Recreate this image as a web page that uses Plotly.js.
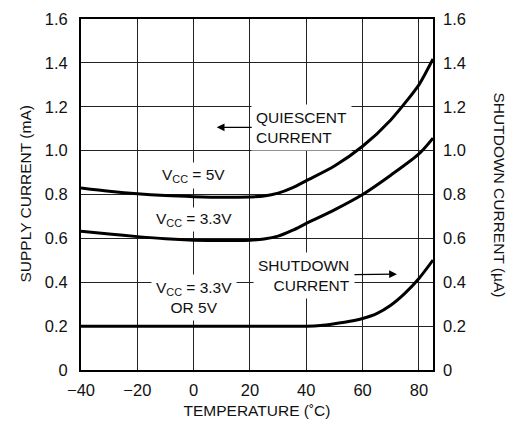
<!DOCTYPE html>
<html>
<head>
<meta charset="utf-8">
<script src="https://cdn.plot.ly/plotly-3.0.1.min.js"></script>
<style>html,body{margin:0;padding:0;background:#fff;}#chart{width:516px;height:425px;}</style>
</head>
<body>
<div id="chart"></div>
<script>
// Temperatures (°C) and currents
const tempQ5 = [-40, -30, -20, -10, 0, 10, 20, 25, 30, 35, 40, 50, 60, 70, 80, 82, 85];
const iq5V   = [0.830, 0.815, 0.803, 0.795, 0.790, 0.787, 0.789, 0.793, 0.806, 0.830, 0.863, 0.930, 1.020, 1.140, 1.300, 1.345, 1.418];

const tempQ33 = [-40, -30, -20, -10, 0, 10, 20, 25, 30, 35, 40, 50, 60, 70, 80, 85];
const iq33V   = [0.632, 0.620, 0.608, 0.598, 0.592, 0.590, 0.592, 0.597, 0.610, 0.636, 0.668, 0.730, 0.800, 0.888, 0.985, 1.057];

const tempSD = [-40, -20, 0, 20, 40, 45, 50, 55, 60, 65, 70, 75, 80, 85];
const iSD    = [0.200, 0.200, 0.200, 0.200, 0.200, 0.203, 0.211, 0.221, 0.235, 0.257, 0.295, 0.349, 0.417, 0.501];

const xTicks = [-40, -20, 0, 20, 40, 60, 80];
const xTickText = ['\u221240', '\u221220', '0', '20', '40', '60', '80'];
const yTicks = [0, 0.2, 0.4, 0.6, 0.8, 1.0, 1.2, 1.4, 1.6];
const yTickText = ['0', '0.2', '0.4', '0.6', '0.8', '1.0', '1.2', '1.4', '1.6'];

const FONT = 'Liberation Sans, Arial, sans-serif';
const lineStyle = {color: '#000', width: 3, shape: 'spline', smoothing: 0.8};

const traces = [
  {x: tempQ5, y: iq5V, mode: 'lines', line: lineStyle, hoverinfo: 'skip'},
  {x: tempQ33, y: iq33V, mode: 'lines', line: lineStyle, hoverinfo: 'skip'},
  {x: tempSD, y: iSD, mode: 'lines', line: lineStyle, hoverinfo: 'skip', yaxis: 'y2'}
];

const txt = {family: FONT, size: 15.5, color: '#111'};
const tickFont = {family: FONT, size: 16.5, color: '#111'};
const annotations = [
  {x: 0, y: 0.885, xref: 'x', yref: 'y', text: 'V<sub>CC</sub> = 5V', showarrow: false,
   font: txt, bgcolor: '#fff', borderpad: 3},
  {x: 0, y: 0.685, xref: 'x', yref: 'y', text: 'V<sub>CC</sub> = 3.3V', showarrow: false,
   font: txt, bgcolor: '#fff', borderpad: 2},
  {x: 0, y: 0.33, xref: 'x', yref: 'y', text: 'V<sub>CC</sub> = 3.3V<br>OR 5V', showarrow: false,
   font: txt, bgcolor: '#fff', borderpad: 4},
  // labels carrying their arrows: (x, y) is the arrow head
  {x: 72.2, y: 0.437, xref: 'x', yref: 'y', ax: -93, ay: 1, align: 'right',
   text: 'SHUTDOWN<br>CURRENT', showarrow: true, arrowhead: 2, arrowsize: 1.3, arrowwidth: 1.2,
   arrowcolor: '#000', font: txt, bgcolor: '#fff', borderpad: 4},
  {x: 8.2, y: 1.106, xref: 'x', yref: 'y', ax: 85, ay: 0, align: 'left',
   text: 'QUIESCENT<br>CURRENT', showarrow: true, arrowhead: 2, arrowsize: 1.3, arrowwidth: 1.2,
   arrowcolor: '#000', font: txt, bgcolor: '#fff', borderpad: 4},
  // axis titles
  {x: -0.159, y: 0.5, xref: 'paper', yref: 'paper', text: 'SUPPLY CURRENT (mA)', textangle: -90,
   showarrow: false, font: txt, xanchor: 'center', yanchor: 'middle'},
  {x: 1.1875, y: 0.5, xref: 'paper', yref: 'paper', text: 'SHUTDOWN CURRENT (\u00b5A)', textangle: 90,
   showarrow: false, font: txt, xanchor: 'center', yanchor: 'middle'}
];

const layout = {
  width: 516, height: 425,
  margin: {l: 81, r: 83, t: 19, b: 55},
  paper_bgcolor: '#fff', plot_bgcolor: '#fff',
  showlegend: false,
  font: {family: FONT, size: 16, color: '#111'},
  xaxis: {
    range: [-40, 85], tickvals: xTicks, ticktext: xTickText, tickfont: tickFont,
    showgrid: true, gridcolor: '#222', gridwidth: 1,
    zeroline: false, showline: true, linecolor: '#000', linewidth: 2, mirror: true,
    ticks: '', ticklabelstandoff: 4,
    title: {text: 'TEMPERATURE (\u02daC)', font: txt, standoff: 7}
  },
  yaxis: {
    range: [0, 1.6], tickvals: yTicks, ticktext: yTickText, tickfont: tickFont,
    showgrid: true, gridcolor: '#222', gridwidth: 1,
    zeroline: false, showline: true, linecolor: '#000', linewidth: 2, mirror: true,
    ticks: '', ticklabelstandoff: 8
  },
  yaxis2: {
    range: [0, 1.6], tickvals: yTicks, ticktext: yTickText, tickfont: tickFont,
    overlaying: 'y', side: 'right', showgrid: false, zeroline: false,
    showline: false, ticks: '', ticklabelstandoff: 9
  },
  annotations: annotations
};

Plotly.newPlot('chart', traces, layout, {staticPlot: true, displayModeBar: false});
</script>
</body>
</html>
